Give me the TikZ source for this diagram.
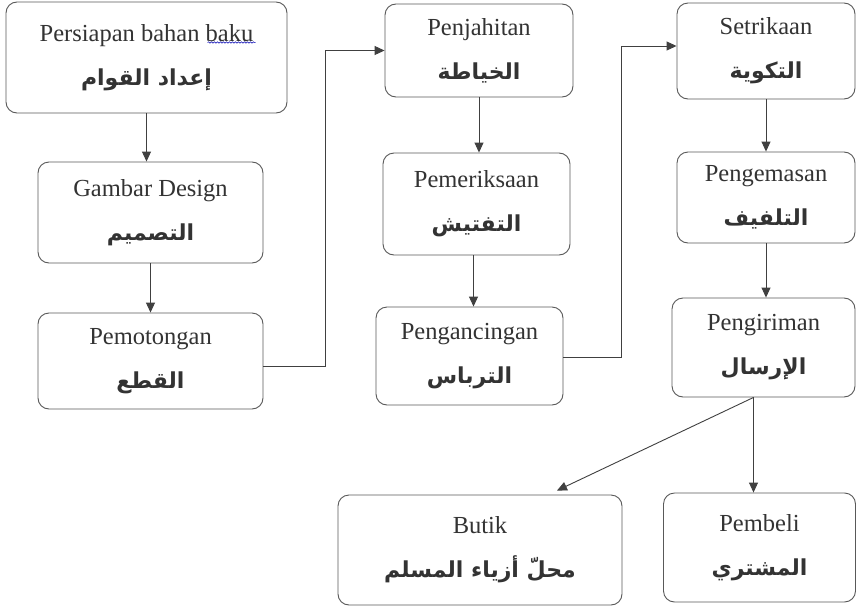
\documentclass[tikz,border=0pt]{standalone}
\usepackage{fontspec}
\setmainfont{Liberation Serif}
\newfontfamily\arabicfont[Script=Arabic]{DejaVu Sans}
\TeXXeTstate=1
\usetikzlibrary{arrows.meta,calc,decorations.pathmorphing}
\newcommand{\ar}[1]{{\arabicfont\bfseries\fontsize{22}{44}\selectfont\beginR #1\endR}}
\begin{document}
\begin{tikzpicture}[x=1pt,y=1pt,
  box/.style={draw=black!65, line width=0.9pt, rounded corners=11pt, inner sep=0pt,
    align=center, text=black!80, font=\fontsize{24.5}{44}\selectfont},
  arr/.style={draw=black!75, line width=0.9pt, -{Triangle[length=10pt,width=9pt]}},
  ln/.style={draw=black!75, line width=0.9pt}]
\useasboundingbox (0,0) rectangle (857,-608);
\fill[white] (0,0) rectangle (857,-608);
% boxes
\node[box, minimum width=281, minimum height=111] (b1) at (146.5,-57.5)
  {Persiapan bahan baku\\\ar{إعداد القوام}};
\node[box, minimum width=225, minimum height=101] (b2) at (150.5,-212.5)
  {Gambar Design\\\ar{التصميم}};
\node[box, minimum width=225, minimum height=96] (b3) at (150.5,-361)
  {Pemotongan\\\ar{القطع}};
\node[box, minimum width=188, minimum height=93] (b4) at (479,-50.5)
  {Penjahitan\\\ar{الخياطة}};
\node[box, minimum width=187, minimum height=102] (b5) at (476.5,-204)
  {Pemeriksaan\\\ar{التفتيش}};
\node[box, minimum width=187, minimum height=98] (b6) at (469.5,-356)
  {Pengancingan\\\ar{الترباس}};
\node[box, minimum width=178, minimum height=96] (b7) at (766,-51)
  {Setrikaan\\\ar{التكوية}};
\node[box, minimum width=178, minimum height=91] (b8) at (766,-197.5)
  {Pengemasan\\\ar{التلفيف}};
\node[box, minimum width=183, minimum height=99] (b9) at (763.5,-347.5)
  {Pengiriman\\\ar{الإرسال}};
\node[box, minimum width=284, minimum height=110] (b10) at (480,-550)
  {Butik\\\ar{محلّ أزياء المسلم}};
\node[box, minimum width=192, minimum height=109] (b11) at (759.5,-547.5)
  {Pembeli\\\ar{المشتري}};
% spell-check squiggle under "baku"
\draw[blue!70!black, line width=0.5pt, decorate,
  decoration={snake, amplitude=0.7pt, segment length=3pt}]
  ($(b1.center)+(61,15)$) -- ++(48,0);
% connectors
\draw[arr] (b1.south) -- (b1.south |- b2.north);
\draw[arr] (b2.south) -- (b2.south |- b3.north);
\coordinate (c1) at (325,-366);
\draw[arr] (b3.east |- c1) -- (c1) |- (b4.west);
\draw[arr] (b4.south) -- (b4.south |- b5.north);
\draw[arr] ([xshift=-3pt]b5.south) -- ([xshift=-3pt]b5.south |- b6.north);
\coordinate (c2) at (621,-357);
\draw[arr] (b6.east |- c2) -- (c2) |- ([yshift=5pt]b7.west);
\draw[arr] (b7.south) -- (b7.south |- b8.north);
\draw[arr] (b8.south) -- (b8.south |- b9.north);
\coordinate (c3) at ([xshift=-10pt]b9.south);
\draw[arr] (c3) -- (c3 |- b11.north);
\draw[arr] (c3) -- ($(b10.north)+(77,4)$);
\end{tikzpicture}
\end{document}
